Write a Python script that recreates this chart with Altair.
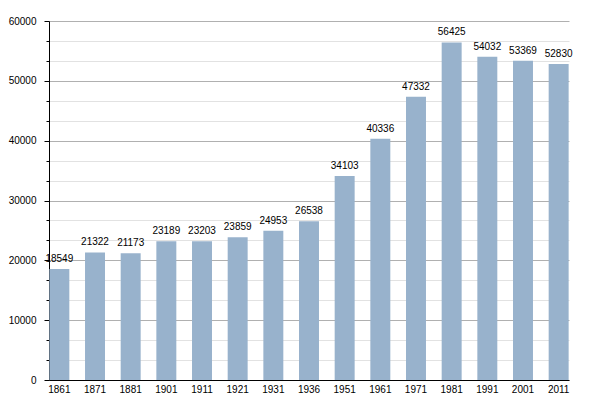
import altair as alt
import pandas as pd

years = ["1861", "1871", "1881", "1901", "1911", "1921", "1931", "1936",
         "1951", "1961", "1971", "1981", "1991", "2001", "2011"]
population = [18549, 21322, 21173, 23189, 23203, 23859, 24953, 26538,
              34103, 40336, 47332, 56425, 54032, 53369, 52830]
y_ticks = [i * 10000 / 3 for i in range(19)]

df = pd.DataFrame({"year": years, "pop": population})

major = "abs(datum.value / 10000 - round(datum.value / 10000)) < 0.001"

base = alt.Chart(df)

bars = base.mark_bar(color="#98b2cc").encode(
    x=alt.X("year:N", sort=years, title=None,
            scale=alt.Scale(paddingInner=0.44, paddingOuter=0.01),
            axis=alt.Axis(labelAngle=0, ticks=False, domainColor="#000",
                          labelFont="Liberation Sans", labelFontSize=10,
                          labelColor="#000", labelPadding=4)),
    y=alt.Y("pop:Q", title=None,
            scale=alt.Scale(domain=[0, 60000], nice=False),
            axis=alt.Axis(values=y_ticks, tickCount=len(y_ticks), format="d",
                          labelExpr=f"({major}) ? datum.label : ''",
                          labelOverlap=False,
                          domainColor="#000", tickColor="#000",
                          tickSize={"condition": {"test": major, "value": 5}, "value": 3},
                          gridColor={"condition": {"test": major, "value": "#b0b0b0"}, "value": "#e2e2e2"},
                          labelFont="Liberation Sans", labelFontSize=10,
                          labelColor="#000", labelPadding=8)),
)

labels = base.mark_text(baseline="bottom", dy=-5, font="Liberation Sans",
                        fontSize=10, color="#000").encode(
    x=alt.X("year:N", sort=years),
    y="pop:Q",
    text="pop:Q",
)

chart = (bars + labels).properties(
    width=520, height=359, padding={"left": 0, "top": 8, "right": 5, "bottom": 5}
).configure_view(stroke=None)

chart.save("out.html", embed_options={"renderer": "svg", "actions": False})
